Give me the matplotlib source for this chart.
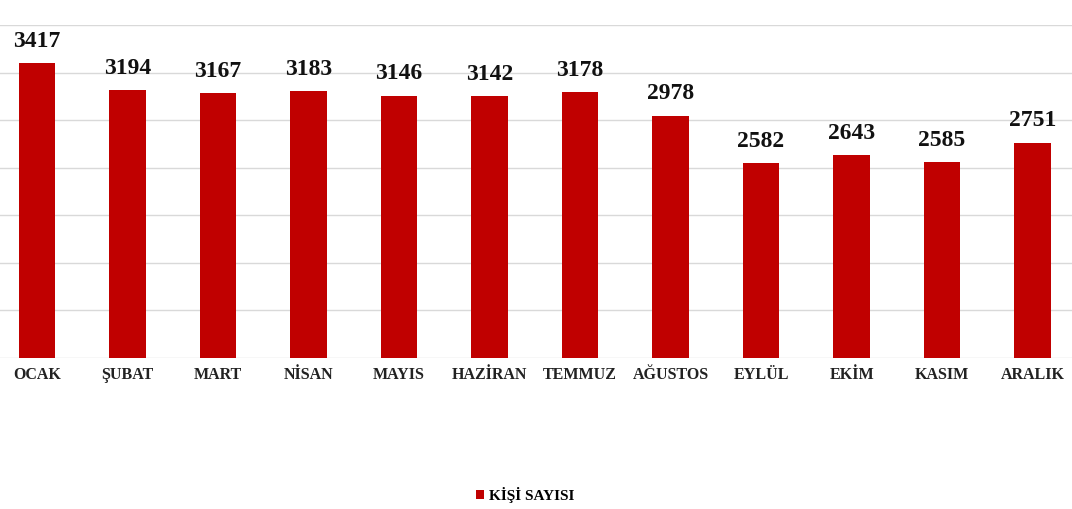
import matplotlib.pyplot as plt

# monthly counts (KİŞİ SAYISI)
months = ["OCAK", "ŞUBAT", "MART", "NİSAN", "MAYIS", "HAZİRAN",
          "TEMMUZ", "AĞUSTOS", "EYLÜL", "EKİM", "KASIM", "ARALIK"]
kisi_sayisi = [3417, 3194, 3167, 3183, 3146, 3142, 3178, 2978, 2582, 2643, 2585, 2751]
series_name = "KİŞİ SAYISI"

bar_color = "#c00000"
plt.rcParams["font.family"] = ["Liberation Serif", "DejaVu Serif"]

fig = plt.figure(figsize=(10.72, 5.09), dpi=100)
ax = fig.add_axes([0.0, 0.2967, 1.0, 0.6543])

x = range(len(months))
bars = ax.bar(x, kisi_sayisi, width=0.40, color=bar_color, label=series_name, zorder=3)

ax.set_xlim(-0.409, 11.436)
ax.set_ylim(940, 3740)
ax.set_yticks(range(940, 3741, 400))
ax.yaxis.grid(True, color="#d9d9d9", linewidth=1.0, zorder=0)
ax.tick_params(axis="y", left=False, labelleft=False)
ax.tick_params(axis="x", bottom=False, pad=3)
ax.set_xticks(list(x))
ax.set_xticklabels(months, fontsize=11.5, fontweight="bold", color="#222222")
for side in ["top", "right", "left", "bottom"]:
    ax.spines[side].set_visible(False)

for bar, value in zip(bars, kisi_sayisi):
    ax.annotate(f"{value}", (bar.get_x() + bar.get_width() / 2, bar.get_height()),
                xytext=(0, 8), textcoords="offset points", ha="center", va="bottom",
                fontsize=17, fontweight="bold", color="#111111", annotation_clip=False)

leg = fig.legend(loc="center", bbox_to_anchor=(0.49, 0.027), frameon=False,
                 prop={"size": 11, "weight": "bold"}, handlelength=0.5, handleheight=0.5,
                 handletextpad=0.3)

fig.savefig("out.png", dpi=100)
